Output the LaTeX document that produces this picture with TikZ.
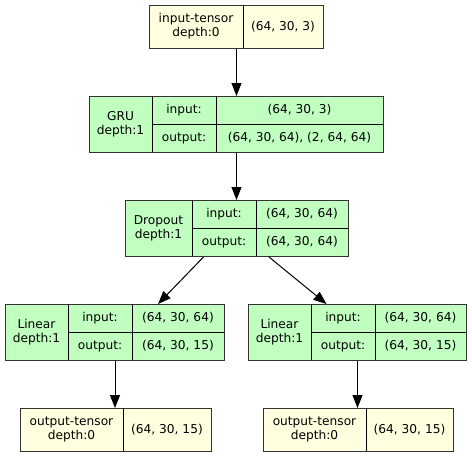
\documentclass[tikz,border=0pt]{standalone}
\usepackage{fontspec}
\setmainfont{DejaVu Sans}
\usetikzlibrary{arrows.meta}
\definecolor{ylw}{HTML}{FFFFE0}
\definecolor{grn}{HTML}{C1FFC1}
\definecolor{edgec}{HTML}{333333}
\begin{document}
\begin{tikzpicture}[x=1pt,y=-1pt,
  rec/.style={draw=edgec,line width=1pt,inner sep=0pt,anchor=north west},
  divl/.style={draw=black,line width=1pt},
  txt/.style={inner sep=0pt,align=center,font=\fontsize{12.2}{14}\selectfont},
  arr/.style={-{Triangle[length=13pt,width=10pt]},line width=1pt,black}]
\useasboundingbox (0,0) rectangle (472,456);
\fill[white] (0,0) rectangle (472,456);

% input tensor
\node[rec,fill=ylw,minimum width=174pt,minimum height=43pt] (inp) at (149,5) {};
\draw[divl] (243,5) -- (243,48);
\node[txt] (inpname) at (196,26.5) {input-tensor\\depth:0};
\node[txt] (inpshape) at (283,26.5) {(64, 30, 3)};

% GRU
\node[rec,fill=grn,minimum width=294pt,minimum height=56pt] (gru) at (89,96) {};
\draw[divl] (152,96) -- (152,152);
\draw[divl] (216,96) -- (216,152);
\draw[divl] (152,124) -- (383,124);
\node[txt] (gruname) at (120.5,124) {GRU\\depth:1};
\node[txt] (gruin) at (184,110) {input:};
\node[txt] (gruout) at (184,138) {output:};
\node[txt] (gruinv) at (299.5,110) {(64, 30, 3)};
\node[txt] (gruoutv) at (299.5,138) {(64, 30, 64), (2, 64, 64)};

% Dropout
\node[rec,fill=grn,minimum width=223pt,minimum height=56pt] (drop) at (125,200) {};
\draw[divl] (192,200) -- (192,256);
\draw[divl] (256,200) -- (256,256);
\draw[divl] (192,228) -- (348,228);
\node[txt] (dropname) at (158.5,228) {Dropout\\depth:1};
\node[txt] (dropin) at (224,214) {input:};
\node[txt] (dropout) at (224,242) {output:};
\node[txt] (dropinv) at (302,214) {(64, 30, 64)};
\node[txt] (dropoutv) at (302,242) {(64, 30, 64)};

% Linear left
\node[rec,fill=grn,minimum width=219pt,minimum height=56pt] (linL) at (5,304) {};
\draw[divl] (68,304) -- (68,360);
\draw[divl] (132,304) -- (132,360);
\draw[divl] (68,332) -- (224,332);
\node[txt] (linLname) at (36.5,332) {Linear\\depth:1};
\node[txt] (linLin) at (100,318) {input:};
\node[txt] (linLout) at (100,346) {output:};
\node[txt] (linLinv) at (178,318) {(64, 30, 64)};
\node[txt] (linLoutv) at (178,346) {(64, 30, 15)};

% Linear right
\node[rec,fill=grn,minimum width=218pt,minimum height=56pt] (linR) at (248,304) {};
\draw[divl] (311,304) -- (311,360);
\draw[divl] (375,304) -- (375,360);
\draw[divl] (311,332) -- (466,332);
\node[txt] (linRname) at (279.5,332) {Linear\\depth:1};
\node[txt] (linRin) at (343,318) {input:};
\node[txt] (linRout) at (343,346) {output:};
\node[txt] (linRinv) at (420.5,318) {(64, 30, 64)};
\node[txt] (linRoutv) at (420.5,346) {(64, 30, 15)};

% output tensors
\node[rec,fill=ylw,minimum width=191pt,minimum height=43pt] (outL) at (20,408) {};
\draw[divl] (123,408) -- (123,451);
\node[txt] (outLname) at (71.5,429.5) {output-tensor\\depth:0};
\node[txt] (outLv) at (167,429.5) {(64, 30, 15)};

\node[rec,fill=ylw,minimum width=190pt,minimum height=43pt] (outR) at (263,408) {};
\draw[divl] (366,408) -- (366,451);
\node[txt] (outRname) at (314.5,429.5) {output-tensor\\depth:0};
\node[txt] (outRv) at (409.5,429.5) {(64, 30, 15)};

% connectors
\draw[arr] (inp.south) -- (inp.south |- gru.north);
\draw[arr] (gru.south) -- (gru.south |- drop.north);
\draw[arr] ([xshift=-33.5pt]drop.south) -- ([xshift=43pt]linL.north);
\draw[arr] ([xshift=32pt]drop.south) -- ([xshift=-31pt]linR.north);
\draw[arr] (linL.south) -- (linL.south |- outL.north);
\draw[arr] (linR.south) -- (linR.south |- outR.north);
\end{tikzpicture}
\end{document}
